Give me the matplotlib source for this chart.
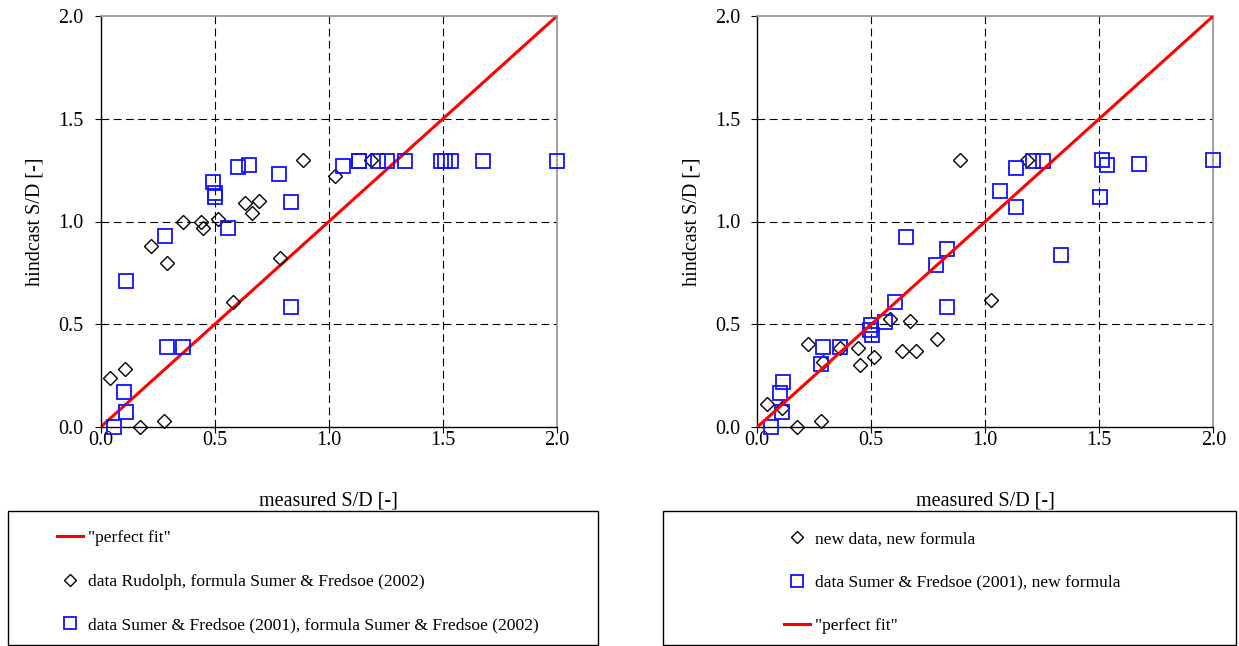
import matplotlib
matplotlib.use("Agg")
import matplotlib.pyplot as plt
from matplotlib.lines import Line2D
from matplotlib.patches import Rectangle

plt.rcParams['font.family'] = ['Liberation Serif', 'DejaVu Serif']

# ---------------- data ----------------
fit_x = [0.0, 2.0]
fit_y = [0.0, 2.0]

# left panel: formula Sumer & Fredsoe (2002)
rud_meas_L = [0.885, 0.632, 0.694, 0.665, 0.361, 0.438, 0.449, 0.515, 0.221,
              0.292, 0.786, 0.579, 0.042, 0.106, 0.173, 0.279, 1.027, 1.185]
rud_hind_L = [1.30, 1.09, 1.10, 1.04, 1.00, 1.00, 0.97, 1.01, 0.88,
              0.80, 0.82, 0.61, 0.24, 0.28, 0.00, 0.03, 1.22, 1.30]

sf_meas_L = [0.491, 0.50, 0.50, 0.60, 0.651, 0.78, 0.832, 0.56, 0.28,
             0.11, 0.832, 0.289, 0.359, 0.10, 0.11, 0.058, 1.063, 1.131,
             1.131, 1.215, 1.253, 1.332, 1.493, 1.508, 1.534, 1.674, 2.0]
sf_hind_L = [1.19, 1.14, 1.12, 1.265, 1.275, 1.23, 1.095, 0.97, 0.93,
             0.71, 0.585, 0.39, 0.39, 0.17, 0.075, 0.0, 1.27, 1.295,
             1.295, 1.295, 1.295, 1.295, 1.295, 1.295, 1.295, 1.295, 1.295]

# right panel: new formula
new_meas_R = [0.887, 1.025, 0.584, 0.669, 0.789, 0.635, 0.697, 0.44, 0.513,
              0.45, 0.223, 0.361, 0.288, 0.044, 0.11, 0.173, 0.279, 1.185]
new_hind_R = [1.30, 0.617, 0.527, 0.514, 0.43, 0.372, 0.372, 0.385, 0.339,
              0.30, 0.404, 0.385, 0.315, 0.11, 0.092, 0.0, 0.028, 1.30]

sf_meas_R = [0.652, 0.833, 0.783, 0.833, 0.603, 0.562, 0.499, 0.493, 0.503,
             0.29, 0.361, 0.281, 0.112, 0.10, 0.11, 0.059, 1.133, 1.063,
             1.133, 1.211, 1.253, 1.332, 1.513, 1.532, 1.503, 1.673, 2.0]
sf_hind_R = [0.926, 0.865, 0.788, 0.584, 0.607, 0.511, 0.495, 0.471, 0.446,
             0.389, 0.389, 0.308, 0.217, 0.167, 0.073, 0.0, 1.262, 1.149,
             1.072, 1.296, 1.296, 0.835, 1.299, 1.277, 1.121, 1.282, 1.298]

ticks = [0.0, 0.5, 1.0, 1.5, 2.0]
tick_labels = ["0.0", "0.5", "1.0", "1.5", "2.0"]
grid_vals = [0.5, 1.0, 1.5]

xlabel = "measured S/D [-]"
ylabel = "hindcast S/D [-]"

lab_fit = '"perfect fit"'
lab_rud_L = "data Rudolph, formula Sumer & Fredsoe (2002)"
lab_sf_L = "data Sumer & Fredsoe (2001), formula Sumer & Fredsoe (2002)"
lab_new_R = "new data, new formula"
lab_sf_R = "data Sumer & Fredsoe (2001), new formula"

# ---------------- style ----------------
W, H = 1239, 646
RED = '#ff0000'
BLUE = '#1010ff'
FS = 14.5
fig = plt.figure(figsize=(W / 100, H / 100), dpi=100)

def fx(px):
    return px / W

def fy(py):
    return 1 - py / H

ax_top, ax_bot = 16, 427
axL = fig.add_axes([fx(100.7), fy(ax_bot), fx(557 - 100.7), (ax_bot - ax_top) / H])
axR = fig.add_axes([fx(757.3), fy(ax_bot), fx(1213.3 - 757.3), (ax_bot - ax_top) / H])

dia_kw = dict(linestyle='none', marker='D', markersize=7.0, markerfacecolor='none',
              markeredgecolor='black', markeredgewidth=1.0)
sq_kw = dict(linestyle='none', marker='s', markersize=10.3, markerfacecolor='none',
             markeredgecolor=BLUE, markeredgewidth=1.3)
fit_kw = dict(color=RED, linewidth=2.2, solid_capstyle='butt')


def style_axes(ax):
    ax.set_xlim(0, 2)
    ax.set_ylim(0, 2)
    for v in grid_vals:
        ax.axhline(v, color='black', lw=0.8, dashes=(7, 4), zorder=0.5)
        ax.axvline(v, color='black', lw=0.8, dashes=(7, 4), zorder=0.5)
    ax.set_xticks(ticks)
    ax.set_xticklabels(tick_labels)
    ax.set_yticks(ticks)
    ax.set_yticklabels(tick_labels)
    ax.tick_params(direction='out', length=4.2, width=0.8, labelsize=FS,
                   colors='black', top=False, right=False)
    ax.tick_params(axis='y', pad=8.0)
    ax.tick_params(axis='x', pad=-1.5)
    for s in ['left', 'bottom']:
        ax.spines[s].set_color('black')
        ax.spines[s].set_linewidth(1.0)
    for s in ['top', 'right']:
        ax.spines[s].set_color('#909090')
        ax.spines[s].set_linewidth(1.2)
    ax.set_xlabel(xlabel, fontsize=FS, labelpad=30)
    ax.set_ylabel(ylabel, fontsize=FS, labelpad=10)


# left panel
style_axes(axL)
hL_fit, = axL.plot(fit_x, fit_y, **fit_kw, zorder=2)
hL_rud, = axL.plot(rud_meas_L, rud_hind_L, **dia_kw, zorder=3, clip_on=False)
hL_sf, = axL.plot(sf_meas_L, sf_hind_L, **sq_kw, zorder=3, clip_on=False)

# right panel
style_axes(axR)
hR_new, = axR.plot(new_meas_R, new_hind_R, **dia_kw, zorder=3, clip_on=False)
hR_sf, = axR.plot(sf_meas_R, sf_hind_R, **sq_kw, zorder=3, clip_on=False)
hR_fit, = axR.plot(fit_x, fit_y, **fit_kw, zorder=4)

# legend frames
box_top, box_bot = 511, 645
for (x0, x1) in [(8, 598), (663, 1236)]:
    fig.patches.append(Rectangle((fx(x0), fy(box_bot)), fx(x1 - x0), (box_bot - box_top) / H,
                                 transform=fig.transFigure, fill=False,
                                 edgecolor='black', linewidth=1.0))

leg_kw = dict(frameon=False, fontsize=12.6, handlelength=1.5, handletextpad=0.28,
              labelspacing=1.55, borderpad=0, borderaxespad=0, numpoints=1,
              loc='upper left', markerscale=0.9)

leg_handles_L = [Line2D([], [], color=RED, lw=2.2),
                 Line2D([], [], **dia_kw),
                 Line2D([], [], **sq_kw)]
fig.legend(leg_handles_L, [lab_fit, lab_rud_L, lab_sf_L],
           bbox_to_anchor=(fx(57), fy(530)), **leg_kw)

leg_handles_R = [Line2D([], [], **dia_kw),
                 Line2D([], [], **sq_kw),
                 Line2D([], [], color=RED, lw=2.2)]
fig.legend(leg_handles_R, [lab_new_R, lab_sf_R, lab_fit],
           bbox_to_anchor=(fx(784), fy(531)), **leg_kw)

fig.savefig("out.png", dpi=100)
